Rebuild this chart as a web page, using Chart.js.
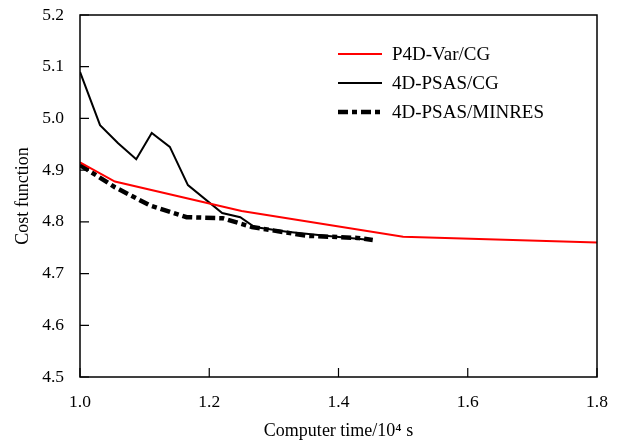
<!DOCTYPE html>
<html><head><meta charset="utf-8">
<script src="https://cdn.jsdelivr.net/npm/chart.js@4.4.0/dist/chart.umd.min.js"></script>
<style>html,body{margin:0;padding:0;background:#fff}#wrap{width:619px;height:441px}</style>
</head><body><div id="wrap"><canvas id="c" width="619" height="441"></canvas></div>
<script>
const seriesLabels = ['P4D-Var/CG', '4D-PSAS/CG', '4D-PSAS/MINRES'];
const p4dX = [1.0, 1.054, 1.25, 1.5, 1.8];
const p4dY = [4.915, 4.878, 4.821, 4.771, 4.760];
const psasCgX = [1.0, 1.031, 1.059, 1.087, 1.111, 1.139, 1.167, 1.220, 1.248, 1.27, 1.32, 1.38, 1.45];
const psasCgY = [5.090, 4.987, 4.952, 4.921, 4.972, 4.945, 4.871, 4.817, 4.809, 4.790, 4.781, 4.773, 4.765];
const minresX = [1.0, 1.054, 1.108, 1.165, 1.221, 1.266, 1.351, 1.429, 1.453];
const minresY = [4.910, 4.867, 4.832, 4.809, 4.807, 4.790, 4.773, 4.769, 4.765];
const xTicks = [1.0, 1.2, 1.4, 1.6, 1.8];
const yTicks = [4.5, 4.6, 4.7, 4.8, 4.9, 5.0, 5.1, 5.2];

const pts = (xs, ys) => xs.map((x, i) => ({x, y: ys[i]}));
const FONT = "'Liberation Serif', 'DejaVu Serif', serif";

const framePlugin = {
  id: 'frame',
  afterDatasetsDraw(chart) {
    const {ctx, chartArea: a, scales: {x, y}} = chart;
    ctx.save();
    ctx.strokeStyle = '#000';
    ctx.lineWidth = 1.5;
    ctx.strokeRect(a.left, a.top, a.right - a.left, a.bottom - a.top);
    ctx.lineWidth = 1.2;
    ctx.beginPath();
    xTicks.forEach(v => { const px = x.getPixelForValue(v); ctx.moveTo(px, a.bottom); ctx.lineTo(px, a.bottom - 9); });
    yTicks.forEach(v => { const py = y.getPixelForValue(v); ctx.moveTo(a.left, py); ctx.lineTo(a.left + 9, py); });
    ctx.stroke();
    // legend
    const lx0 = 338, lx1 = 382, ys = [54, 83, 112];
    chart.data.datasets.forEach((ds, i) => {
      ctx.beginPath();
      ctx.strokeStyle = ds.borderColor;
      ctx.lineWidth = ds.borderWidth;
      ctx.setLineDash(ds.borderDash || []);
      ctx.moveTo(lx0, ys[i]); ctx.lineTo(lx1, ys[i]);
      ctx.stroke();
      ctx.setLineDash([]);
      ctx.fillStyle = '#000';
      ctx.font = '19px ' + FONT;
      ctx.textBaseline = 'middle';
      ctx.fillText(ds.label, 392, ys[i] + 1);
    });
    ctx.restore();
  }
};

new Chart(document.getElementById('c'), {
  type: 'line',
  data: {
    datasets: [
      {label: seriesLabels[0], data: pts(p4dX, p4dY), borderColor: '#ff0000', borderWidth: 2},
      {label: seriesLabels[1], data: pts(psasCgX, psasCgY), borderColor: '#000', borderWidth: 2},
      {label: seriesLabels[2], data: pts(minresX, minresY), borderColor: '#000', borderWidth: 4.5, borderDash: [10, 4, 5, 4]}
    ]
  },
  options: {
    responsive: false,
    animation: false,
    devicePixelRatio: 1,
    layout: {padding: {top: 15, right: 22, left: 0, bottom: 0}},
    elements: {point: {radius: 0}, line: {tension: 0}},
    plugins: {legend: {display: false}, tooltip: {enabled: false}},
    scales: {
      x: {
        type: 'linear', min: 1.0, max: 1.8,
        afterBuildTicks: s => { s.ticks = xTicks.map(v => ({value: v})); },
        afterFit: s => { s.height = 64; s.paddingLeft = 0; s.paddingRight = 0; },
        grid: {display: false, drawTicks: false},
        border: {display: false},
        ticks: {color: '#000', font: {family: FONT, size: 17.5}, padding: 15, callback: v => v.toFixed(1), maxRotation: 0},
        title: {display: true, text: 'Computer time/10\u2074 s', color: '#000', font: {family: FONT, size: 18}, padding: {top: 4, bottom: -1}}
      },
      y: {
        type: 'linear', min: 4.5, max: 5.2,
        afterBuildTicks: s => { s.ticks = yTicks.map(v => ({value: v})); },
        afterFit: s => { s.width = 80; s.paddingTop = 0; s.paddingBottom = 0; },
        grid: {display: false, drawTicks: false},
        border: {display: false},
        ticks: {color: '#000', font: {family: FONT, size: 17.5}, padding: 16, callback: v => v.toFixed(1)},
        title: {display: true, text: 'Cost function', color: '#000', font: {family: FONT, size: 18}, padding: {top: 12, bottom: 0}}
      }
    }
  },
  plugins: [framePlugin]
});
</script></body></html>
